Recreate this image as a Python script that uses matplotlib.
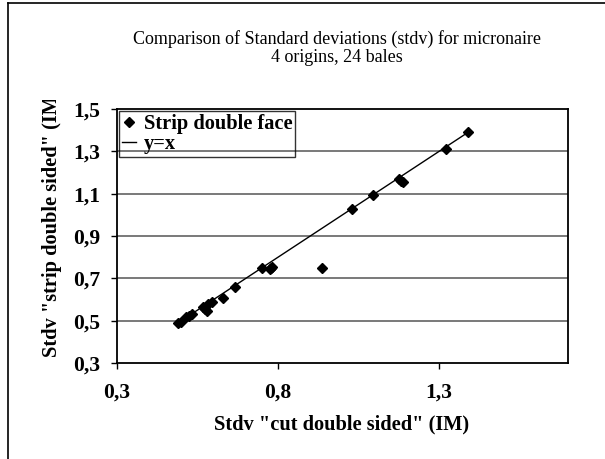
import matplotlib.pyplot as plt
from matplotlib.transforms import Bbox
import matplotlib.lines as mlines

plt.rcParams['font.family'] = ['Liberation Serif', 'DejaVu Serif']

# stdv of micronaire, cut double sided (x) vs strip double sided (y)
cut = [0.489, 0.499, 0.515, 0.525, 0.534, 0.568, 0.574, 0.579, 0.594, 0.628,
       0.666, 0.751, 0.775, 0.781, 0.778, 0.936, 1.029, 1.096, 1.176, 1.182,
       1.189, 1.321, 1.391, 0.584]
strip = [0.488, 0.492, 0.515, 0.523, 0.530, 0.563, 0.555, 0.547, 0.587, 0.609,
         0.661, 0.750, 0.743, 0.752, 0.747, 0.747, 1.026, 1.094, 1.169, 1.162,
         1.154, 1.309, 1.390, 0.580]
line_x = [min(cut), max(cut)]
line_y = [min(cut), max(cut)]

xticks = [0.3, 0.8, 1.3]
yticks = [0.3, 0.5, 0.7, 0.9, 1.1, 1.3, 1.5]

W, H = 605, 459
fig = plt.figure(figsize=(W / 100, H / 100), dpi=100)
ax = fig.add_axes([117 / W, 1 - 363 / H, (568 - 117) / W, (363 - 109) / H])

for t in yticks[1:-1]:
    ax.axhline(t, color='#6e6e6e', lw=1.3, zorder=0)

ax.plot(cut, strip, linestyle='none', marker='D', markersize=5.2, color='black',
        label='Strip double face', zorder=3)
ax.plot(line_x, line_y, color='black', lw=1.0, label='y=x', zorder=2)

ax.set_xlim(0.3, 1.7)
ax.set_ylim(0.3, 1.5)
ax.set_xticks(xticks)
ax.set_yticks(yticks)
ax.set_xticklabels([f'{v:.1f}'.replace('.', ',') for v in xticks], fontweight='bold', fontsize=15.5)
ax.set_yticklabels([f'{v:.1f}'.replace('.', ',') for v in yticks], fontweight='bold', fontsize=15.5)
ax.tick_params(axis='x', direction='out', length=4, width=1, pad=10)
ax.tick_params(axis='y', direction='out', length=4, width=1, pad=8)
for s in ax.spines.values():
    s.set_linewidth(1.3)

leg = ax.legend(loc='upper left', bbox_to_anchor=(0.0, 1.0), frameon=True, fancybox=False,
                prop={'weight': 'bold', 'size': 14.7}, handlelength=0.7, handletextpad=0.35,
                borderpad=0.15, labelspacing=0.0, borderaxespad=0.1)
leg.get_frame().set_facecolor('none')
leg.get_frame().set_edgecolor('black')
leg.get_frame().set_linewidth(1.0)

fig.text(337 / W, 1 - 39 / H, 'Comparison of Standard deviations (stdv) for micronaire',
         ha='center', va='center', fontsize=13)
fig.text(337 / W, 1 - 57 / H, '4 origins, 24 bales', ha='center', va='center', fontsize=13)

fig.text(342 / W, 1 - 424 / H, 'Stdv "cut double sided" (IM)', ha='center', va='center',
         fontsize=14.7, fontweight='bold')
yl = fig.text(52 / W, 1 - 357 / H, 'Stdv "strip double sided" (IM)', ha='center', va='bottom',
              rotation=90, fontsize=14.7, fontweight='bold')
yl.set_clip_box(Bbox.from_extents(0, 0, W, H - 100))
yl.set_clip_on(True)

# outer frame (left and top edges)
fig.add_artist(mlines.Line2D([8 / W, 8 / W], [0, 1 - 3 / H], color='black', lw=1.2,
                             transform=fig.transFigure))
fig.add_artist(mlines.Line2D([8 / W, 1], [1 - 3 / H, 1 - 3 / H], color='black', lw=1.2,
                             transform=fig.transFigure))

fig.savefig('out.png', dpi=100)
